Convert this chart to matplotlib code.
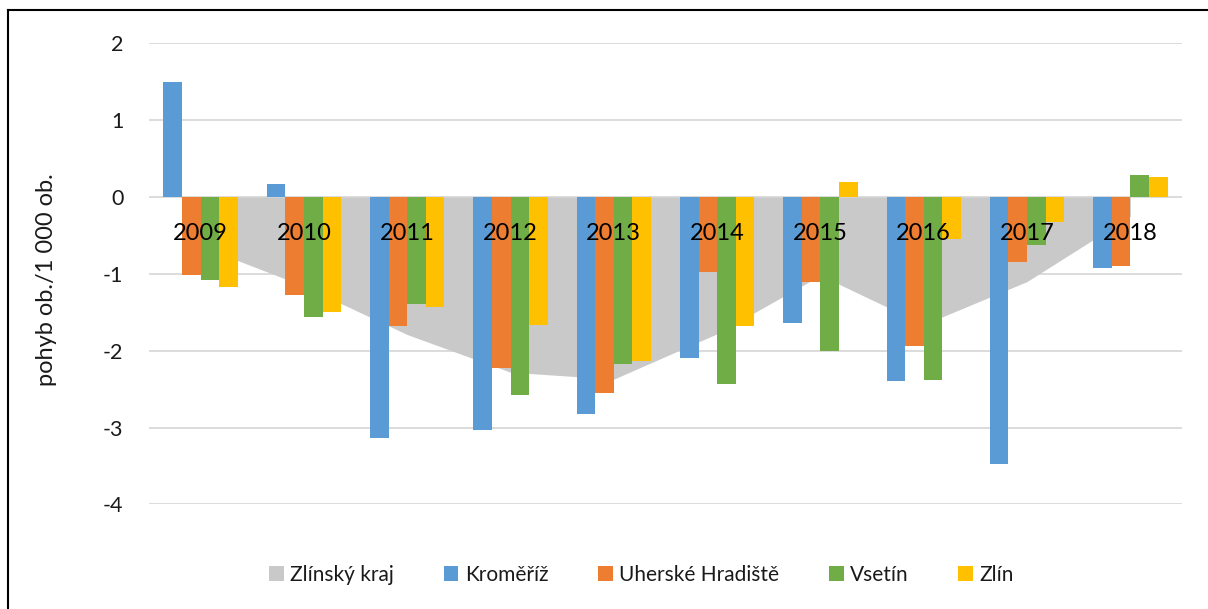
import matplotlib
matplotlib.use("Agg")
import matplotlib.pyplot as plt
import matplotlib.transforms as mtransforms
from matplotlib.patches import Patch
from matplotlib.lines import Line2D
import numpy as np

plt.rcParams['font.family'] = ['Lato', 'DejaVu Sans']

years = ['2009', '2010', '2011', '2012', '2013', '2014', '2015', '2016', '2017', '2018']
zlinsky_kraj = [-0.64, -1.16, -1.79, -2.28, -2.37, -1.78, -1.02, -1.66, -1.10, -0.25]
kromeriz = [1.49, 0.17, -3.14, -3.03, -2.83, -2.10, -1.64, -2.40, -3.48, -0.93]
uherske_hradiste = [-1.01, -1.28, -1.68, -2.23, -2.55, -0.98, -1.11, -1.94, -0.84, -0.90]
vsetin = [-1.08, -1.56, -1.39, -2.57, -2.17, -2.43, -2.01, -2.38, -0.62, 0.28]
zlin = [-1.17, -1.49, -1.43, -1.66, -2.14, -1.68, 0.19, -0.55, -0.33, 0.26]
yticks = [2, 1, 0, -1, -2, -3, -4]

series_names = ['Zlínský kraj', 'Kroměříž', 'Uherské Hradiště', 'Vsetín', 'Zlín']
c_area = '#c9c9c9'
bar_colors = ['#5b9bd5', '#ed7d31', '#70ad47', '#ffc000']

W, H = 1208, 609
fig = plt.figure(figsize=(W / 100, H / 100), dpi=100)
ax = fig.add_axes([149 / W, 1 - 504.4 / H, (1182 - 149) / W, (504.4 - 43.3) / H])

x = np.arange(len(years))
ax.fill_between(x, zlinsky_kraj, 0, color=c_area, linewidth=0, zorder=1)

bw = 0.18
bar_series = [kromeriz, uherske_hradiste, vsetin, zlin]
for i, (vals, col) in enumerate(zip(bar_series, bar_colors)):
    ax.bar(x + (i - 1.5) * bw, vals, width=bw, color=col, linewidth=0, zorder=2)

ax.set_xlim(-0.5, len(years) - 0.5)
ax.set_ylim(-4, 2)
ax.set_yticks(yticks)
ax.set_yticklabels([str(v) for v in yticks], fontsize=15.5, color='#1a1a1a')
ax.tick_params(axis='y', length=0, pad=18.5)
ax.set_xticks([])
ax.grid(axis='y', color='#d9d9d9', linewidth=1.3, zorder=0)
ax.set_axisbelow(True)
for s in ax.spines.values():
    s.set_visible(False)

off = mtransforms.offset_copy(ax.transData, fig=fig, x=0, y=-43, units='dots')
for xi, yr in zip(x, years):
    ax.text(xi, 0, yr, transform=off, ha='center', va='baseline', fontsize=17, color='black', zorder=5)

fig.text(46.7 / W, 1 - 280 / H, 'pohyb ob./1 000 ob.', rotation=90, ha='center', va='center',
         fontsize=17, color='#1a1a1a')

handles = [Patch(facecolor=c_area, edgecolor='none')] + [Patch(facecolor=c, edgecolor='none') for c in bar_colors]
fig.legend(handles, series_names, loc='center', bbox_to_anchor=(641.4 / W, 1 - 575 / H), ncol=5,
           frameon=False, fontsize=15, handlelength=0.7, handleheight=0.7, handletextpad=0.3,
           columnspacing=2.4, labelcolor='#1a1a1a')

# chart frame (left and top edges visible)
fig.add_artist(Line2D([8.3 / W, 8.3 / W], [0, 1 - 10 / H], color='black', linewidth=1.5))
fig.add_artist(Line2D([8.3 / W, 1], [1 - 10 / H, 1 - 10 / H], color='black', linewidth=1.5))

fig.savefig('out.png', dpi=100)
